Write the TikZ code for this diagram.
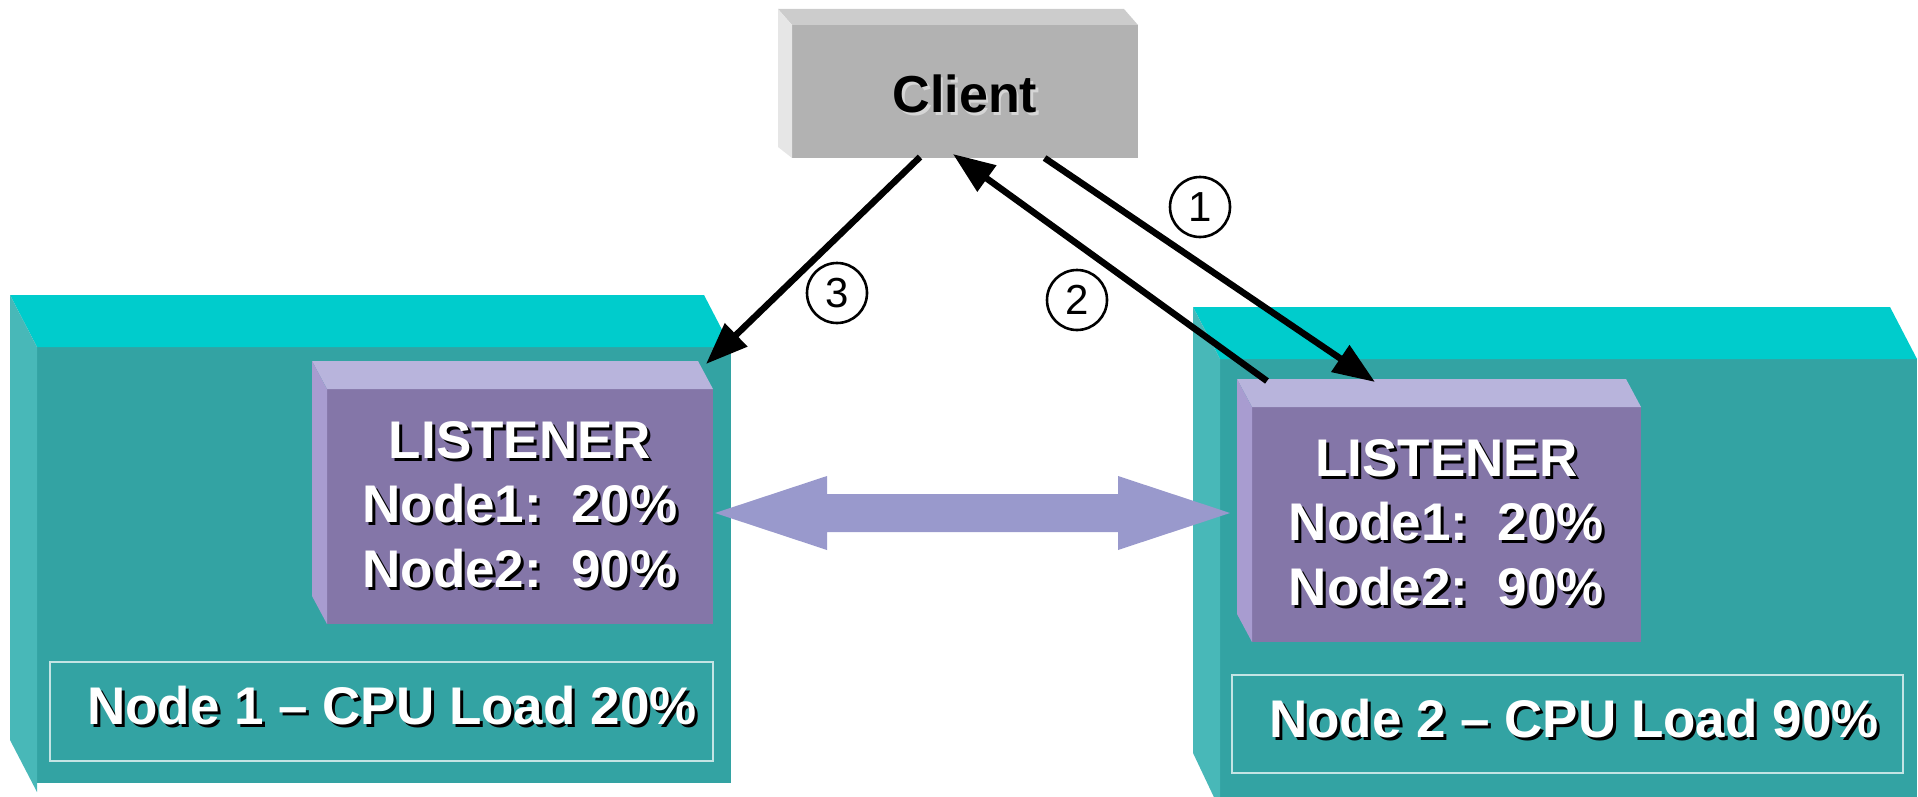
\documentclass[tikz,border=0pt]{standalone}
\usepackage{fontspec}
\setmainfont{Liberation Sans}
\usetikzlibrary{calc,arrows.meta}

\definecolor{nodetop}{HTML}{00CCCC}
\definecolor{nodefront}{HTML}{33A3A3}
\definecolor{nodeside}{HTML}{48B8B8}
\definecolor{lisfront}{HTML}{8476A8}
\definecolor{listop}{HTML}{B8B4DC}
\definecolor{lisside}{HTML}{A89CD0}
\definecolor{clifront}{HTML}{B2B2B2}
\definecolor{clitop}{HTML}{CCCCCC}
\definecolor{cliside}{HTML}{E6E6E6}
\definecolor{clishade}{HTML}{D6D6D6}
\definecolor{linkfill}{HTML}{9999CC}
\definecolor{framecol}{HTML}{C4E4E4}

% white bold label with a dark drop shadow: name, position, anchor, text
\newcommand\castlabel[4]{%
  \node[boxtext, anchor=#3, text=black] (#1-sh) at ($#2+(3,3)$) {#4};
  \node[boxtext, anchor=#3, text=white] (#1) at #2 {#4};}

\begin{document}
\begin{tikzpicture}[x=1pt, y=-1pt,
  face/.style={inner sep=0pt, outer sep=0pt},
  boxtext/.style={inner sep=0pt, outer sep=0pt, font=\fontsize{53}{64}\selectfont\bfseries},
  flow/.style={line width=6.5pt, -{Triangle[length=42pt, width=31pt]}},
  stepmark/.style={circle, draw, line width=2.6pt, minimum size=60pt, inner sep=0pt,
                   font=\fontsize{42}{42}\selectfont},
  labelframe/.style={draw=framecol, line width=1.5pt, inner sep=0pt}]

\useasboundingbox (0,0) rectangle (1918,797);
\clip (0,0) rectangle (1918,797);

% ---- server boxes ----
\node[face, fill=nodefront, minimum width=694pt, minimum height=436pt] (node1) at (384,565) {};
\fill[nodetop] (node1.north west) -- ($(node1.north west)+(-27,-52)$)
  -- ($(node1.north east)+(-27,-52)$) -- (node1.north east) -- cycle;
\fill[nodeside] (node1.north west) -- ($(node1.north west)+(-27,-52)$)
  -- ($(node1.south west)+(-27,-43)$) -- ($(node1.south west)+(0,9)$) -- cycle;

\node[face, fill=nodefront, minimum width=697pt, minimum height=451pt] (node2) at (1568.5,584.5) {};
\fill[nodetop] (node2.north west) -- ($(node2.north west)+(-27,-52)$)
  -- ($(node2.north east)+(-27,-52)$) -- (node2.north east) -- cycle;
\fill[nodeside] (node2.north west) -- ($(node2.north west)+(-27,-52)$)
  -- ($(node2.south west)+(-27,-57)$) -- (node2.south west) -- cycle;

% ---- listener boxes ----
\node[face, fill=lisfront, minimum width=386pt, minimum height=235pt] (lis1) at (520,506.5) {};
\fill[listop] (lis1.north west) -- ($(lis1.north west)+(-15,-28)$)
  -- ($(lis1.north east)+(-15,-28)$) -- (lis1.north east) -- cycle;
\fill[lisside] (lis1.north west) -- ($(lis1.north west)+(-15,-28)$)
  -- ($(lis1.south west)+(-15,-28)$) -- (lis1.south west) -- cycle;

\node[face, fill=lisfront, minimum width=389pt, minimum height=235pt] (lis2) at (1446.5,524.5) {};
\fill[listop] (lis2.north west) -- ($(lis2.north west)+(-15,-28)$)
  -- ($(lis2.north east)+(-15,-28)$) -- (lis2.north east) -- cycle;
\fill[lisside] (lis2.north west) -- ($(lis2.north west)+(-15,-28)$)
  -- ($(lis2.south west)+(-15,-28)$) -- (lis2.south west) -- cycle;

% ---- client box ----
\node[face, fill=clifront, minimum width=346pt, minimum height=133pt] (client) at (965,91.5) {};
\fill[clitop] (client.north west) -- ($(client.north west)+(-14,-16)$)
  -- ($(client.north east)+(-14,-16)$) -- (client.north east) -- cycle;
\fill[cliside] (client.north west) -- ($(client.north west)+(-14,-16)$)
  -- ($(client.south west)+(-14,-11)$) -- (client.south west) -- cycle;

\node[boxtext, anchor=base, text=clishade, font=\fontsize{52}{60}\selectfont\bfseries] (clientlbl-sh) at (967.5,115.5) {Client};
\node[boxtext, anchor=base, text=black, font=\fontsize{52}{60}\selectfont\bfseries] (clientlbl) at (965,113) {Client};

% ---- listener contents ----
\castlabel{l1a}{(520,458)}{base}{LISTENER}
\castlabel{l1b}{(520,522)}{base}{Node1:\ \ 20\%}
\castlabel{l1c}{(520,587)}{base}{Node2:\ \ 90\%}

\castlabel{l2a}{(1446.5,476)}{base}{LISTENER}
\castlabel{l2b}{(1446.5,540)}{base}{Node1:\ \ 20\%}
\castlabel{l2c}{(1446.5,605)}{base}{Node2:\ \ 90\%}

% ---- load captions ----
\node[labelframe, minimum width=663pt, minimum height=99pt] (frame1) at (381.5,711.5) {};
\node[labelframe, minimum width=671pt, minimum height=98pt] (frame2) at (1567.5,724) {};
\castlabel{cap1}{(87,724)}{base west}{Node 1 \textendash\ CPU Load 20\%}
\castlabel{cap2}{(1269,737)}{base west}{Node 2 \textendash\ CPU Load 90\%}

% ---- load exchange between the listeners ----
\coordinate (dl) at ($(lis1.east)+(2,6.5)$);
\coordinate (dr) at ($(node2.west)+(10,-71.5)$);
\fill[linkfill] (dl) -- ($(dl)+(112,-37)$) -- ($(dl)+(112,-19)$)
  -- ($(dr)+(-112,-19)$) -- ($(dr)+(-112,-37)$) -- (dr)
  -- ($(dr)+(-112,37)$) -- ($(dr)+(-112,19)$)
  -- ($(dl)+(112,19)$) -- ($(dl)+(112,37)$) -- cycle;

% ---- connection steps ----
\coordinate (s1) at ($(client.south west)!0.73!(client.south east)$);
\coordinate (s2) at ($(client.south west)!0.465!(client.south east)+(0,-4)$);
\coordinate (s3) at ($(client.south west)!0.37!(client.south east)+(0,-1)$);
\coordinate (e1) at ($(lis2.north west)+(123,-25)$);
\coordinate (e2) at ($(lis2.north west)+(15,-26)$);
\coordinate (e3) at ($(lis1.north east)+(-7,-25)$);

\draw[flow] (s1) -- (e1);
\draw[flow] (e2) -- (s2);
\draw[flow] (s3) -- (e3);

\node[stepmark] (m1) at (1200,207) {1};
\node[stepmark] (m2) at (1077,300) {2};
\node[stepmark] (m3) at (837,293) {3};

\end{tikzpicture}
\end{document}
